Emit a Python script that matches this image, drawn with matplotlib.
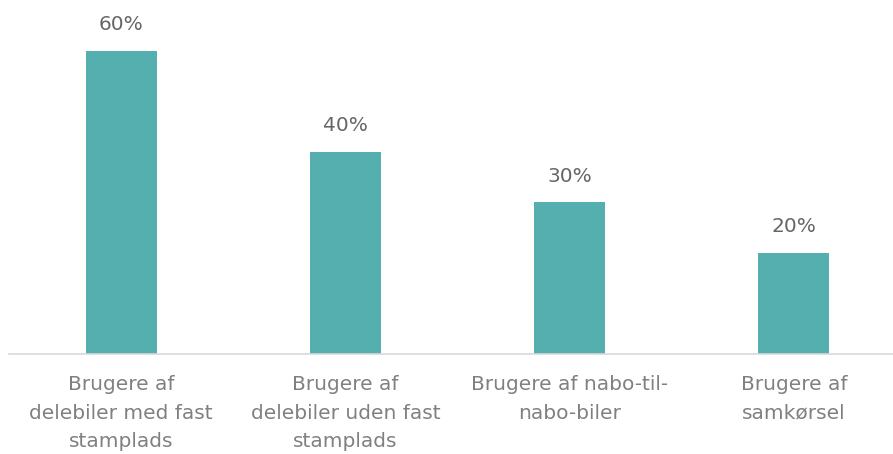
import matplotlib.pyplot as plt

categories = ['Brugere af\ndelebiler med fast\nstamplads',
              'Brugere af\ndelebiler uden fast\nstamplads',
              'Brugere af nabo-til-\nnabo-biler',
              'Brugere af\nsamkørsel']
values = [60, 40, 30, 20]

plt.rcParams['font.family'] = ['DejaVu Sans']

fig = plt.figure(figsize=(8.93, 4.54), dpi=100)
ax = fig.add_axes([9 / 893, 100 / 454, 897 / 893, 354 / 454])

x = range(len(values))
bars = ax.bar(x, values, width=0.316, color='#55AFAE')
for xi, v in zip(x, values):
    ax.annotate(f'{v}%', (xi, v), xytext=(0, 12), textcoords='offset points',
                ha='center', va='bottom', fontsize=14.5, color='#666666')

ax.set_xlim(-0.5, 3.5)
ax.set_ylim(0, 70)
ax.set_xticks(list(x))
ax.set_xticklabels(categories, fontsize=14.5, color='#808080', linespacing=1.65)
ax.tick_params(axis='x', length=0, pad=15)
ax.set_yticks([])
for s in ['top', 'left', 'right']:
    ax.spines[s].set_visible(False)
ax.spines['bottom'].set_color('#d9d9d9')
ax.spines['bottom'].set_linewidth(1.2)

fig.savefig('out.png', dpi=100)
